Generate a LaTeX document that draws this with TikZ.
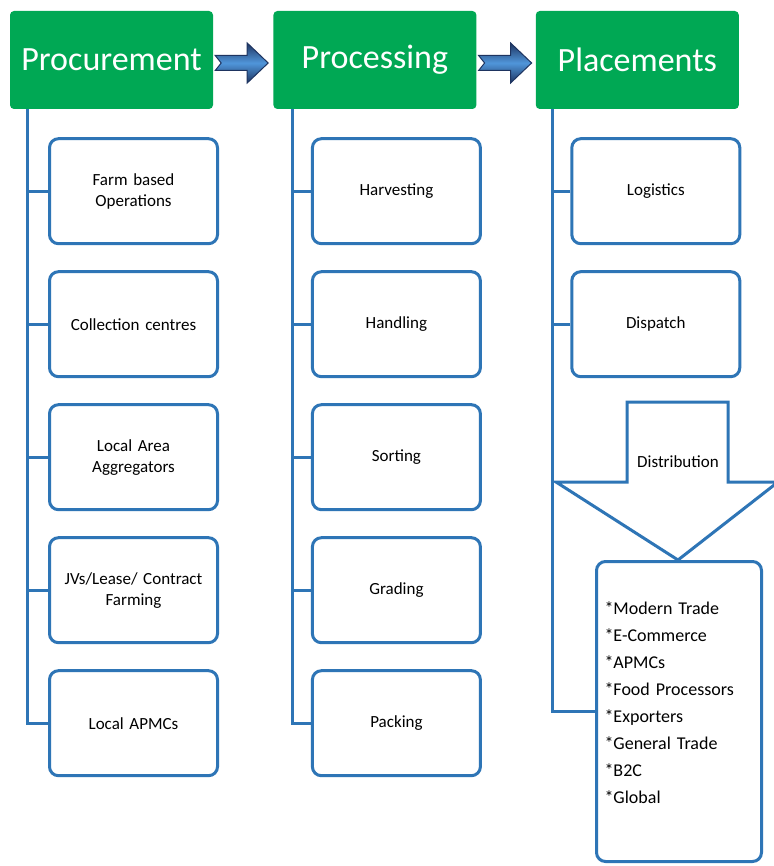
\documentclass[tikz,border=0pt]{standalone}
\usepackage{fontspec}
\setmainfont{Carlito}
\usetikzlibrary{positioning,calc}
\definecolor{stagegreen}{RGB}{0,168,84}
\definecolor{boxblue}{RGB}{46,117,182}
\definecolor{arrownavy}{RGB}{30,52,96}
\definecolor{arrowlight}{RGB}{80,150,218}
\tikzset{
    phase/.style = {
        fill = stagegreen,
        text = white,
        rounded corners = 4pt,
        minimum width = 203pt,
        minimum height = 98pt,
        font = \fontsize{34}{40}\selectfont,
        },
    task/.style = {
        draw = boxblue,
        line width = 3pt,
        rounded corners = 9pt,
        minimum width = 168pt,
        minimum height = 105pt,
        text width = 158pt,
        align = center,
        font = \fontsize{17}{21}\selectfont,
        },
    list box/.style = {
        task,
        minimum width = 165pt,
        minimum height = 300pt,
        text width = 149pt,
        inner xsep = 8pt,
        align = left,
        font = \fontsize{18}{27}\selectfont,
        },
    tree line/.style = {
        draw = boxblue,
        line width = 3pt,
        },
    flow arrow/.style = {
        draw = arrownavy,
        line width = 1pt,
        top color = arrownavy,
        bottom color = arrownavy,
        middle color = arrowlight,
        },
    down arrow/.style = {
        draw = boxblue,
        line width = 3pt,
        fill = white,
        },
}
\begin{document}
\begin{tikzpicture}[x=1pt,y=-1pt]
    \path[use as bounding box, fill=white] (0,0) rectangle (773,866);

    % stages
    \node[phase] (procure) at (111.5,60) {Procurement};
    \node[phase, right=60pt of procure] (process) {Processing};
    \node[phase, right=59pt of process] (place) {Placements};

    \foreach \a in {procure,process}
        \draw[flow arrow] ([xshift=2pt,yshift=-3pt]\a.east) +(0,-7.5) -- +(32,-7.5) -- +(32,-20)
            -- +(53,0) -- +(32,20) -- +(32,7.5) -- +(0,7.5) -- +(6,0) -- cycle;

    % procurement
    \node[task, below=28pt of procure.south, xshift=22pt] (f1) {Farm based\\Operations};
    \node[task, below=25pt of f1] (f2) {Collection centres};
    \node[task, below=25pt of f2] (f3) {Local Area\\Aggregators};
    \node[task, below=25pt of f3] (f4) {JVs/Lease/ Contract\\Farming};
    \node[task, below=25pt of f4] (f5) {Local APMCs};

    % processing
    \node[task, below=28pt of process.south, xshift=21.5pt] (p1) {Harvesting};
    \node[task, below=25pt of p1] (p2) {Handling};
    \node[task, below=25pt of p2] (p3) {Sorting};
    \node[task, below=25pt of p3] (p4) {Grading};
    \node[task, below=25pt of p4] (p5) {Packing};

    % placements
    \node[task, below=28pt of place.south, xshift=18.5pt] (g1) {Logistics};
    \node[task, below=25pt of g1] (g2) {Dispatch};

    \draw[down arrow] (627,402) -- (728,402) -- (728,482) -- (778,482) -- (678,560)
        -- (556,482) -- (627,482) -- cycle;
    \node[font=\fontsize{17}{21}\selectfont] (dist) at (678,462) {Distribution};

    \node[list box] (outlets) at (679,711.5) {*Modern Trade\\{*}E-Commerce\\{*}APMCs\\{*}Food Processors\\{*}Exporters\\{*}General Trade\\{*}B2C\\{*}Global\\[-10pt]\mbox{}};

    % tree lines
    \draw[tree line] ([xshift=18pt]procure.south west) coordinate (t1) |- (f5.west);
    \foreach \i in {1,...,4}
        \draw[tree line] (f\i.west) -- (f\i.west -| t1);
    \draw[tree line] ([xshift=19pt]process.south west) coordinate (t2) |- (p5.west);
    \foreach \i in {1,...,4}
        \draw[tree line] (p\i.west) -- (p\i.west -| t2);
    \draw[tree line] ([xshift=17pt]place.south west) coordinate (t3) |- (outlets.west);
    \foreach \i in {1,2}
        \draw[tree line] (g\i.west) -- (g\i.west -| t3);
\end{tikzpicture}
\end{document}
